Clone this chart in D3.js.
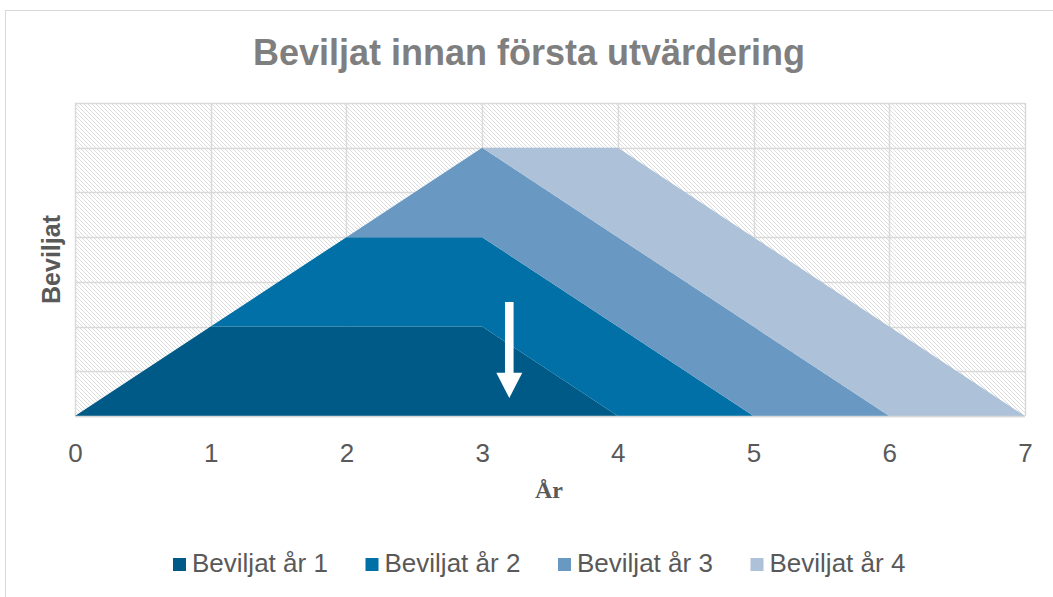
<!DOCTYPE html>
<html>
<head>
<meta charset="utf-8">
<script src="https://cdn.jsdelivr.net/npm/d3@7"></script>
<style>
  body { margin: 0; background: #fff; }
  svg { display: block; }
</style>
</head>
<body>
<div id="chart"></div>
<script>
// data
const years = [0, 1, 2, 3, 4, 5, 6, 7];
const seriesNames = ["Beviljat år 1", "Beviljat år 2", "Beviljat år 3", "Beviljat år 4"];
const ar1 = [0, 2, 2, 2, 0, 0, 0, 0];
const ar2 = [0, 0, 2, 2, 2, 0, 0, 0];
const ar3 = [0, 0, 0, 2, 2, 2, 0, 0];
const ar4 = [0, 0, 0, 0, 2, 2, 2, 0];
const colors = ["#005a87", "#0070a6", "#6999c3", "#adc2d9"];

const width = 1053, height = 597;
const margin = { left: 75, right: 28, top: 103, bottom: 181 };
const chartWidth = width - margin.left - margin.right;
const chartHeight = height - margin.top - margin.bottom;
const sans = "Liberation Sans, Arial, sans-serif";

const svg = d3.select("#chart").append("svg")
  .attr("width", width)
  .attr("height", height);

// chart border
svg.append("rect")
  .attr("x", 5.5).attr("y", 10.5)
  .attr("width", width + 10).attr("height", height + 10)
  .attr("fill", "#fff")
  .attr("stroke", "#d9d9d9");

// hatch pattern for the plot background
const pat = svg.append("defs").append("pattern")
  .attr("id", "hatch")
  .attr("patternUnits", "userSpaceOnUse")
  .attr("width", 4).attr("height", 4);
pat.append("path")
  .attr("d", "M-1,-1L5,5M-1,3L1,5M3,-1L5,1")
  .attr("stroke", "#dcdcdc")
  .attr("stroke-width", 1);

const x = d3.scaleLinear().domain([0, 7]).range([0, chartWidth]);
const y = d3.scaleLinear().domain([0, 7]).range([chartHeight, 0]);

const g = svg.append("g")
  .attr("transform", `translate(${margin.left}, ${margin.top})`);

g.append("rect")
  .attr("width", chartWidth).attr("height", chartHeight)
  .attr("fill", "url(#hatch)");

// gridlines
g.append("g")
  .selectAll("line")
  .data(d3.range(0, 8))
  .enter().append("line")
    .attr("x1", 0).attr("x2", chartWidth)
    .attr("y1", d => Math.round(y(d)) + 0.5)
    .attr("y2", d => Math.round(y(d)) + 0.5)
    .attr("stroke", "#d9d9d9").attr("stroke-width", 1.5);
g.append("g")
  .selectAll("line")
  .data(years)
  .enter().append("line")
    .attr("y1", 0).attr("y2", chartHeight)
    .attr("x1", d => Math.round(x(d)) + 0.5)
    .attr("x2", d => Math.round(x(d)) + 0.5)
    .attr("stroke", "#d9d9d9").attr("stroke-width", 1.5);

// stacked areas
const table = years.map((yr, i) => ({
  year: yr, s0: ar1[i], s1: ar2[i], s2: ar3[i], s3: ar4[i]
}));
const layers = d3.stack().keys(["s0", "s1", "s2", "s3"])(table);

const area = d3.area()
  .x(d => x(d.data.year))
  .y0(d => y(d[0]))
  .y1(d => y(d[1]));

g.selectAll("path.layer")
  .data(layers)
  .enter().append("path")
    .attr("class", "layer")
    .attr("d", area)
    .attr("fill", (d, i) => colors[i]);

// baseline
g.append("line")
  .attr("x1", 0).attr("x2", chartWidth)
  .attr("y1", chartHeight + 0.5).attr("y2", chartHeight + 0.5)
  .attr("stroke", "#d9d9d9").attr("stroke-width", 1.5);

// white arrow annotation
const ax = x(3.2);
const aTop = y(2.55), aHead = y(0.97), aBot = y(0.4);
g.append("rect")
  .attr("x", ax - 4.3).attr("y", aTop)
  .attr("width", 8.6).attr("height", aHead - aTop + 1)
  .attr("fill", "#fff");
g.append("path")
  .attr("d", `M${ax - 13},${aHead}L${ax + 13},${aHead}L${ax},${aBot}Z`)
  .attr("fill", "#fff");

// x axis labels
const xAxis = g.append("g")
  .attr("transform", `translate(0, ${chartHeight})`)
  .call(d3.axisBottom(x).tickValues(years).tickSize(0).tickFormat(d3.format("d")));
xAxis.select(".domain").remove();
xAxis.selectAll("text")
  .attr("y", 46).attr("dy", 0)
  .attr("font-family", sans)
  .attr("font-size", 26)
  .attr("fill", "#595959");

// title
svg.append("text")
  .text("Beviljat innan första utvärdering")
  .attr("x", 529).attr("y", 65)
  .attr("text-anchor", "middle")
  .attr("font-family", sans)
  .attr("font-weight", "bold")
  .attr("font-size", 36)
  .attr("fill", "#7f7f7f");

// axis titles
svg.append("text")
  .text("År")
  .attr("x", margin.left + chartWidth / 2 - 1).attr("y", 498)
  .attr("text-anchor", "middle")
  .attr("font-family", "Liberation Serif, Times New Roman, serif")
  .attr("font-weight", "bold")
  .attr("font-size", 24)
  .attr("fill", "#595959");

svg.append("text")
  .text("Beviljat")
  .attr("transform", `translate(60, ${margin.top + chartHeight / 2}) rotate(-90)`)
  .attr("text-anchor", "middle")
  .attr("font-family", sans)
  .attr("font-weight", "bold")
  .attr("font-size", 25)
  .attr("fill", "#595959");

// legend
const legend = svg.append("g")
  .selectAll("g")
  .data(seriesNames)
  .enter().append("g")
    .attr("transform", (d, i) => `translate(${173 + i * 192.5}, 558)`);
legend.append("rect")
  .attr("width", 13).attr("height", 13)
  .attr("fill", (d, i) => colors[i]);
legend.append("text")
  .text(d => d)
  .attr("x", 19).attr("y", 14)
  .attr("font-family", sans)
  .attr("font-size", 26)
  .attr("fill", "#595959");
</script>
</body>
</html>
